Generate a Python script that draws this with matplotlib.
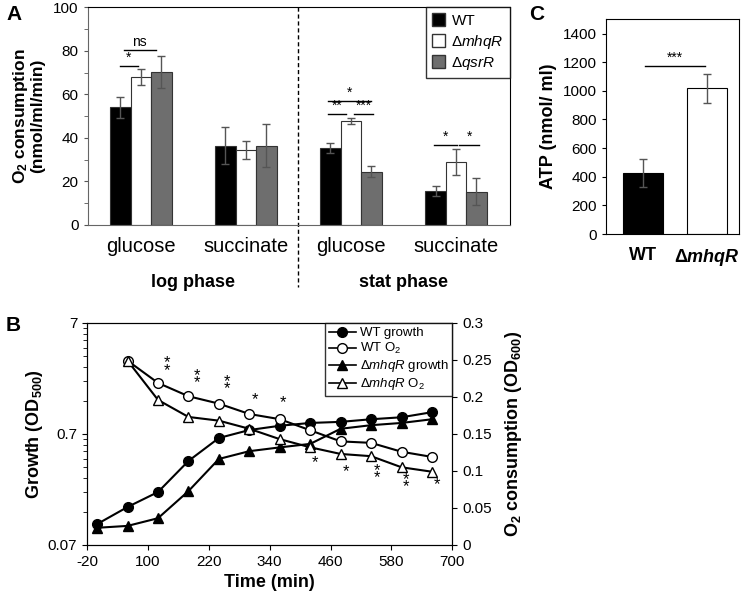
import numpy as np
import matplotlib
matplotlib.use('Agg')
import matplotlib.pyplot as plt
from matplotlib.patches import Patch
from matplotlib.lines import Line2D
from matplotlib.ticker import FixedLocator, FuncFormatter, NullFormatter

plt.rcParams['font.family'] = ['Liberation Sans', 'DejaVu Sans']
plt.rcParams['mathtext.fontset'] = 'custom'
plt.rcParams['mathtext.rm'] = 'Liberation Sans'
plt.rcParams['mathtext.it'] = 'Liberation Sans:italic'
plt.rcParams['mathtext.bf'] = 'Liberation Sans:bold'
plt.rcParams['mathtext.bfit'] = 'Liberation Sans:bold:italic'
plt.rcParams['axes.unicode_minus'] = False

# ---- panel A data: O2 consumption (nmol/ml/min)
conditions = ['glucose', 'succinate', 'glucose', 'succinate']
phases = ['log phase', 'stat phase']
strains_A = ['WT', 'Δ$\\mathit{mhqR}$', 'Δ$\\mathit{qsrR}$']
wt_A = [54, 36.5, 35.2, 15.6]
mhqr_A = [68, 34.4, 47.7, 28.8]
qsrr_A = [70.2, 36.5, 24.4, 15.3]
wt_A_err = [4.7, 8.7, 2.3, 2.3]
mhqr_A_err = [3.7, 4.2, 1.4, 6.0]
qsrr_A_err = [7.5, 10.0, 2.5, 6.3]
# significance brackets: (x start, x end, y, label) in bar positions
sig_A = [(-0.2, -0.03, 72.9, '*'), (-0.16, 0.14, 80.3, 'ns'),
         (1.78, 2.19, 56.9, '*'), (1.78, 1.95, 51, '**'), (2.03, 2.21, 51, '***'),
         (2.79, 3.01, 36.7, '*'), (3.03, 3.22, 36.7, '*')]

# ---- panel B data: growth and O2 over time
time_growth = [0, 60, 120, 180, 240, 300, 360, 420, 480, 540, 600, 660]
wt_growth = [0.108, 0.154, 0.21, 0.40, 0.644, 0.76, 0.83, 0.88, 0.90, 0.95, 0.99, 1.10]
mhqr_growth = [0.10, 0.104, 0.122, 0.214, 0.417, 0.49, 0.53, 0.57, 0.78, 0.84, 0.88, 0.95]
time_o2 = [60, 120, 180, 240, 300, 360, 420, 480, 540, 600, 660]
wt_o2 = [0.249, 0.219, 0.201, 0.191, 0.177, 0.170, 0.155, 0.140, 0.138, 0.126, 0.119]
mhqr_o2 = [0.249, 0.196, 0.173, 0.168, 0.157, 0.143, 0.132, 0.123, 0.120, 0.105, 0.099]
star_t = [137, 196, 255, 311, 366, 429, 490, 551, 608, 669]
star_y = [0.241, 0.224, 0.216, 0.197, 0.192, 0.111, 0.099, 0.096, 0.084, 0.081]
star_lab = ['**', '**', '**', '*', '*', '*', '*', '**', '**', '*']

# ---- panel C data: ATP (nmol/ml)
strains_C = ['WT', 'Δ$\\mathbfit{mhqR}$']
atp = [425, 1017]
atp_err = [100, 103]

fig = plt.figure(figsize=(7.5, 6), dpi=100)

# ================= A
axA = fig.add_axes([0.117, 0.625, 0.563, 0.363])
x = np.arange(len(conditions))
w = 0.195
ekw = dict(ecolor='#555555', elinewidth=1, capsize=3, capthick=1)
axA.bar(x - w, wt_A, w, yerr=wt_A_err, color='black', edgecolor='#333333', lw=0.8, error_kw=ekw)
axA.bar(x, mhqr_A, w, yerr=mhqr_A_err, color='white', edgecolor='#333333', lw=0.8, error_kw=ekw)
axA.bar(x + w, qsrr_A, w, yerr=qsrr_A_err, color='#6e6e6e', edgecolor='#333333', lw=0.8, error_kw=ekw)
axA.set_xlim(-0.505, 3.514)
axA.set_ylim(0, 100)
axA.set_yticks(np.arange(0, 101, 20))
axA.yaxis.set_minor_locator(FixedLocator(np.arange(10, 100, 20)))
axA.tick_params(axis='y', which='both', direction='out', length=3, labelsize=11, color='#555555')
axA.set_xticks(x)
axA.set_xticklabels(conditions, fontsize=14.5)
axA.tick_params(axis='x', length=0, pad=9)
for s in ['left', 'bottom']:
    axA.spines[s].set_color('#666666')
axA.set_ylabel('O$_\\mathbf{2}$ consumption\n(nmol/ml/min)', fontsize=12.5,
               fontweight='bold', linespacing=1.0, labelpad=6)
for xs, xe, yy, lab in sig_A:
    axA.plot([xs, xe], [yy, yy], color='black', lw=1)
    axA.text((xs + xe) / 2, yy + 0.6, lab, ha='center', va='bottom', fontsize=10)
axA.text(0.5, -0.265, phases[0], transform=axA.get_xaxis_transform(),
         ha='center', va='center', fontsize=13, fontweight='bold')
axA.text(2.5, -0.265, phases[1], transform=axA.get_xaxis_transform(),
         ha='center', va='center', fontsize=13, fontweight='bold')
axA.plot([1.5, 1.5], [1.0, -0.285], transform=axA.get_xaxis_transform(),
         color='black', lw=1, ls=(0, (3, 2)), clip_on=False)
hA = [Patch(facecolor=c, edgecolor='#333333') for c in ['black', 'white', '#6e6e6e']]
legA = axA.legend(hA, strains_A, loc='upper right', fontsize=11, borderaxespad=0,
                  fancybox=False, edgecolor='black', handlelength=0.9, handleheight=0.9,
                  handletextpad=0.4, labelspacing=0.3, borderpad=0.4)
legA.get_frame().set_linewidth(1)
fig.text(0.008, 0.975, 'A', fontsize=15, fontweight='bold', va='center')

# ================= C
axC = fig.add_axes([0.808, 0.61, 0.177, 0.358])
xc = np.arange(len(strains_C))
axC.bar(xc, atp, 0.62, yerr=atp_err, color=['black', 'white'], edgecolor='black', lw=0.8,
        error_kw=ekw)
axC.set_xlim(-0.58, 1.5)
axC.set_ylim(0, 1500)
axC.set_yticks(np.arange(0, 1401, 200))
axC.tick_params(axis='y', direction='out', length=3, labelsize=11)
axC.set_xticks(xc)
axC.set_xticklabels(strains_C, fontsize=13, fontweight='bold')
axC.tick_params(axis='x', length=0, pad=9)
axC.set_ylabel('ATP (nmol/ ml)', fontsize=13, fontweight='bold', labelpad=4)
axC.plot([0.03, 0.97], [1170, 1170], color='black', lw=1)
axC.text(0.5, 1180, '***', ha='center', va='bottom', fontsize=10)
fig.text(0.705, 0.975, 'C', fontsize=15, fontweight='bold', va='center')

# ================= B
axB = fig.add_axes([0.116, 0.0917, 0.487, 0.37])
axB.plot(time_growth, wt_growth, color='black', lw=1.5, marker='o', ms=7, mfc='black', mec='black')
axB.plot(time_growth, mhqr_growth, color='black', lw=1.5, marker='^', ms=7, mfc='black', mec='black')
axB.set_yscale('log')
axB.set_ylim(0.07, 7)
axB.yaxis.set_major_locator(FixedLocator([0.07, 0.7, 7]))
axB.yaxis.set_major_formatter(FuncFormatter(lambda v, p: '%g' % v))
axB.yaxis.set_minor_locator(FixedLocator([0.07 * k * 10 ** n for n in (0, 1) for k in range(2, 10)]))
axB.yaxis.set_minor_formatter(NullFormatter())
axB.set_xlim(-20, 700)
axB.set_xticks(np.arange(-20, 701, 120))
axB.tick_params(which='both', direction='out', labelsize=11)
axB.tick_params(which='minor', length=3)
axB.set_xlabel('Time (min)', fontsize=13, fontweight='bold')
axB.set_ylabel('Growth (OD$_\\mathbf{500}$)', fontsize=13, fontweight='bold', labelpad=2)

axB2 = axB.twinx()
axB2.plot(time_o2, wt_o2, color='black', lw=1.5, marker='o', ms=7, mfc='white', mec='black')
axB2.plot(time_o2, mhqr_o2, color='black', lw=1.5, marker='^', ms=7, mfc='white', mec='black')
axB2.set_ylim(0, 0.3)
axB2.set_yticks(np.arange(0, 0.31, 0.05))
axB2.yaxis.set_major_formatter(FuncFormatter(lambda v, p: '%g' % round(v, 2)))
axB2.tick_params(direction='out', labelsize=11)
axB2.set_ylabel('O$_\\mathbf{2}$ consumption (OD$_\\mathbf{600}$)', fontsize=13,
                fontweight='bold', labelpad=8)
# stacked asterisks as one text
for t, yy, lab in zip(star_t, star_y, star_lab):
    axB2.text(t, yy, '\n'.join(lab), ha='center', va='center', fontsize=12, linespacing=0.34)

hB = [Line2D([], [], color='black', lw=1.2, marker='o', ms=7, mfc='black'),
      Line2D([], [], color='black', lw=1.2, marker='o', ms=7, mfc='white'),
      Line2D([], [], color='black', lw=1.2, marker='^', ms=7, mfc='black'),
      Line2D([], [], color='black', lw=1.2, marker='^', ms=7, mfc='white')]
labB = ['WT growth', 'WT O$_2$', 'Δ$\\mathit{mhqR}$ growth', 'Δ$\\mathit{mhqR}$ O$_2$']
legB = axB2.legend(hB, labB, loc='upper right', fontsize=9.5, borderaxespad=0,
                   fancybox=False, edgecolor='black', handlelength=2.0,
                   handletextpad=0.3, labelspacing=0.15, borderpad=0.3)
legB.get_frame().set_linewidth(1)
fig.text(0.008, 0.458, 'B', fontsize=15, fontweight='bold', va='center')

fig.savefig('out.png', dpi=100)
